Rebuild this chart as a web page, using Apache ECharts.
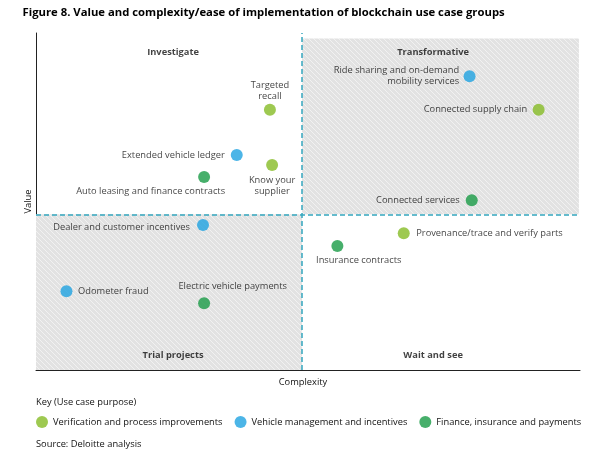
<!DOCTYPE html>
<html>
<head>
<meta charset="utf-8">
<script src="https://cdn.jsdelivr.net/npm/echarts@6/dist/echarts.min.js"></script>
<style>
  html, body { margin: 0; padding: 0; background: #ffffff; }
  #chart { width: 600px; height: 468px; }
</style>
</head>
<body>
<div id="chart"></div>
<script>
// ---------- DATA ----------
const seriesNames = [
  'Verification and process improvements',
  'Vehicle management and incentives',
  'Finance, insurance and payments'
];
// [name, complexity, value]
const verificationPoints = [
  ['Targeted recall', 43.0, 77.2],
  ['Know your supplier', 43.4, 60.8],
  ['Connected supply chain', 92.4, 77.2],
  ['Provenance/trace and verify parts', 67.6, 40.6]
];
const vehiclePoints = [
  ['Extended vehicle ledger', 36.9, 63.8],
  ['Ride sharing and on-demand mobility services', 79.7, 87.2],
  ['Dealer and customer incentives', 30.7, 43.0],
  ['Odometer fraud', 5.6, 23.4]
];
const financePoints = [
  ['Auto leasing and finance contracts', 30.9, 57.3],
  ['Connected services', 80.1, 50.4],
  ['Electric vehicle payments', 30.9, 19.8],
  ['Insurance contracts', 55.4, 36.8]
];
const quadrantNames = ['Investigate', 'Transformative', 'Trial projects', 'Wait and see'];
const complexityDivider = 48.9;
const valueDivider = 46.2;
const axisMax = 100;
const shadeTop = 98.4;
const titleText = 'Figure 8. Value and complexity/ease of implementation of blockchain use case groups';
const keyText = 'Key (Use case purpose)';
const sourceText = 'Source: Deloitte analysis';
const xAxisName = 'Complexity';
const yAxisName = 'Value';

// ---------- LAYOUT / STYLE ----------
const colors = ['#86bc25', '#1fa3e1', '#199b46'];
const FONT = '"Open Sans", "Noto Sans", sans-serif';
const TEXT_COLOR = '#111111';
const FS = 9.3;
const SYM = 12;
// label placement relative to dot centre: dx, dy, align, optional wrapped text
const labelLayout = {
  'Targeted recall': { dx: 0, dy: -19, align: 'center', text: 'Targeted\nrecall' },
  'Know your supplier': { dx: 0, dy: 21, align: 'center', text: 'Know your\nsupplier' },
  'Connected supply chain': { dx: -11.5, dy: 0, align: 'right' },
  'Provenance/trace and verify parts': { dx: 12.5, dy: 0.4, align: 'left' },
  'Extended vehicle ledger': { dx: -12, dy: 0, align: 'right' },
  'Ride sharing and on-demand mobility services': { dx: -10.5, dy: -0.7, align: 'right', text: 'Ride sharing and on-demand\nmobility services' },
  'Dealer and customer incentives': { dx: -13, dy: 2.3, align: 'right' },
  'Odometer fraud': { dx: 11.6, dy: 0.7, align: 'left' },
  'Auto leasing and finance contracts': { dx: 21, dy: 14, align: 'right' },
  'Connected services': { dx: -12, dy: 0, align: 'right' },
  'Electric vehicle payments': { dx: -25.7, dy: -16.6, align: 'left' },
  'Insurance contracts': { dx: -21.3, dy: 14.7, align: 'left' }
};
const quadrantAnchors = [[25.2, 94.4], [73.0, 94.4], [25.2, 4.45], [73.0, 4.45]];

function hatchPattern() {
  const s = 5;
  const c = document.createElement('canvas');
  c.width = s; c.height = s;
  const g = c.getContext('2d');
  g.fillStyle = '#e2e2e2';
  g.fillRect(0, 0, s, s);
  g.strokeStyle = 'rgba(255,255,255,0.5)';
  g.lineWidth = 1;
  for (const o of [-s, 0, s]) {
    g.beginPath();
    g.moveTo(o, 0);
    g.lineTo(o + s, s);
    g.stroke();
  }
  return { image: c, repeat: 'repeat' };
}

function makeData(points) {
  return points.map(p => {
    const L = labelLayout[p[0]];
    return {
      name: p[0],
      value: [p[1], p[2]],
      label: {
        show: true,
        position: [SYM / 2 + L.dx, SYM / 2 + L.dy],
        align: L.align,
        verticalAlign: 'middle',
        formatter: L.text || p[0]
      }
    };
  });
}

const pointLabelStyle = {
  fontFamily: FONT, fontSize: FS, color: TEXT_COLOR, lineHeight: 11
};

const pattern = hatchPattern();

const series = [
  {
    name: '__areas',
    type: 'scatter',
    data: [],
    silent: true,
    markArea: {
      silent: true,
      itemStyle: { color: pattern },
      data: [
        [{ coord: [complexityDivider, valueDivider] }, { coord: [axisMax - 0.2, shadeTop] }],
        [{ coord: [0, 0] }, { coord: [complexityDivider, valueDivider] }]
      ]
    },
    markLine: {
      silent: true,
      symbol: 'none',
      label: { show: false },
      lineStyle: { color: '#35a6bf', width: 1.5, type: [5, 3] },
      data: [{ xAxis: complexityDivider }, { yAxis: valueDivider }]
    },
    z: 1
  }
];
const groups = [verificationPoints, vehiclePoints, financePoints];
groups.forEach((pts, i) => {
  series.push({
    name: seriesNames[i],
    type: 'scatter',
    symbol: 'circle',
    symbolSize: SYM,
    itemStyle: { color: colors[i] },
    label: Object.assign({ show: true }, pointLabelStyle),
    labelLayout: { hideOverlap: false },
    emphasis: { disabled: true },
    data: makeData(pts),
    z: 5
  });
});
series.push({
  name: '__quadrants',
  type: 'scatter',
  symbolSize: 0,
  silent: true,
  data: quadrantNames.map((n, i) => ({ name: n, value: quadrantAnchors[i] })),
  label: {
    show: true, position: 'inside', formatter: '{b}',
    fontFamily: FONT, fontSize: FS, fontWeight: 'bold', color: TEXT_COLOR
  },
  z: 4
});

const chart = echarts.init(document.getElementById('chart'), null, { renderer: 'canvas' });
chart.setOption({
  animation: false,
  backgroundColor: '#ffffff',
  textStyle: { fontFamily: FONT },
  title: [
    { text: titleText, left: 22.5, top: 7.5, padding: 0,
      textStyle: { fontFamily: FONT, fontSize: 11.3, fontWeight: 'bold', color: '#000' } },
    { text: keyText, left: 36, top: 397.5, padding: 0,
      textStyle: { fontFamily: FONT, fontSize: FS, fontWeight: 'normal', color: TEXT_COLOR } },
    { text: sourceText, left: 36, top: 440, padding: 0,
      textStyle: { fontFamily: FONT, fontSize: FS, fontWeight: 'normal', color: TEXT_COLOR } }
  ],
  legend: {
    data: seriesNames,
    left: 36, top: 416, padding: 0,
    icon: 'circle', itemWidth: 12, itemHeight: 12, itemGap: 12,
    textStyle: { fontFamily: FONT, fontSize: FS, color: TEXT_COLOR },
    selectedMode: false
  },
  grid: { left: 36, right: 20, top: 33, bottom: 98 },
  xAxis: {
    type: 'value', min: 0, max: axisMax,
    name: xAxisName, nameLocation: 'middle', nameGap: 8,
    nameTextStyle: { fontFamily: FONT, fontSize: FS, color: TEXT_COLOR, padding: [0, 10, 0, 0] },
    axisLine: { show: true, onZero: false, lineStyle: { color: '#222', width: 1 } },
    axisTick: { show: false }, axisLabel: { show: false }, splitLine: { show: false }
  },
  yAxis: {
    type: 'value', min: 0, max: axisMax,
    name: yAxisName, nameLocation: 'middle', nameGap: 3,
    nameTextStyle: { fontFamily: FONT, fontSize: FS, color: TEXT_COLOR },
    axisLine: { show: true, onZero: false, lineStyle: { color: '#222', width: 1 } },
    axisTick: { show: false }, axisLabel: { show: false }, splitLine: { show: false }
  },
  series: series
});
</script>
</body>
</html>
